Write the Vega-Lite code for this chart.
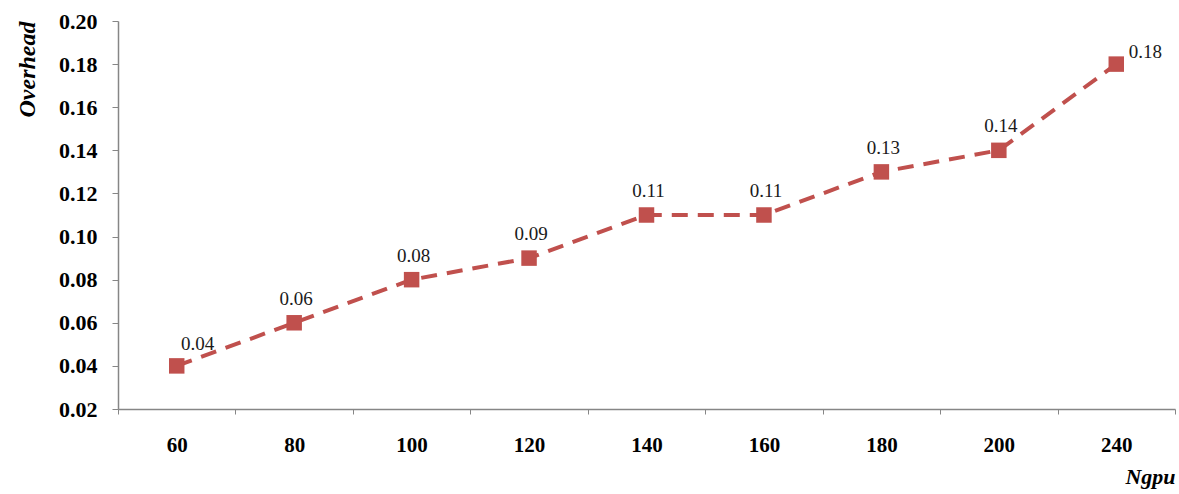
{
  "$schema": "https://vega.github.io/schema/vega-lite/v6.json",
  "autosize": {"type": "none"},
  "width": 1057,
  "height": 388,
  "padding": {"left": 118, "top": 21, "right": 4, "bottom": 85},
  "background": "white",
  "config": {"view": {"stroke": null}},
  "data": {
    "values": [
      {"Ngpu": "60", "Overhead": 0.04},
      {"Ngpu": "80", "Overhead": 0.06},
      {"Ngpu": "100", "Overhead": 0.08},
      {"Ngpu": "120", "Overhead": 0.09},
      {"Ngpu": "140", "Overhead": 0.11},
      {"Ngpu": "160", "Overhead": 0.11},
      {"Ngpu": "180", "Overhead": 0.13},
      {"Ngpu": "200", "Overhead": 0.14},
      {"Ngpu": "240", "Overhead": 0.18}
    ]
  },
  "encoding": {
    "x": {
      "field": "Ngpu",
      "type": "ordinal",
      "sort": null,
      "scale": {"type": "band", "paddingInner": 0, "paddingOuter": 0},
      "axis": {
        "title": "Ngpu",
        "titleFont": "Liberation Serif",
        "titleFontSize": 22,
        "titleFontWeight": "bold",
        "titleFontStyle": "italic",
        "titleColor": "#000000",
        "titleAnchor": "end",
        "titlePadding": 11,
        "labelFont": "Liberation Serif",
        "labelFontSize": 21,
        "labelFontWeight": "bold",
        "labelColor": "#000000",
        "labelAngle": 0,
        "labelPadding": 20,
        "tickBand": "extent",
        "tickColor": "#868686",
        "tickSize": 5,
        "domainColor": "#868686",
        "domainWidth": 1.5,
        "grid": false
      }
    },
    "y": {
      "field": "Overhead",
      "type": "quantitative",
      "scale": {"domain": [0.02, 0.2], "nice": false, "zero": false},
      "axis": {
        "title": "Overhead",
        "titleFont": "Liberation Serif",
        "titleFontSize": 24,
        "titleFontWeight": "bold",
        "titleFontStyle": "italic",
        "titleColor": "#000000",
        "titleAnchor": "end",
        "titlePadding": 19,
        "values": [0.02, 0.04, 0.06, 0.08, 0.1, 0.12, 0.14, 0.16, 0.18, 0.2],
        "format": ".2f",
        "labelFont": "Liberation Serif",
        "labelFontSize": 22,
        "labelFontWeight": "bold",
        "labelColor": "#000000",
        "labelPadding": 15,
        "tickColor": "#868686",
        "tickSize": 6,
        "domainColor": "#868686",
        "domainWidth": 1.5,
        "grid": false
      }
    }
  },
  "layer": [
    {
      "mark": {"type": "line", "color": "#C0504D", "strokeWidth": 4, "strokeDash": [16, 10]}
    },
    {
      "mark": {"type": "point", "shape": "square", "filled": true, "opacity": 1, "color": "#C0504D", "size": 240}
    },
    {
      "transform": [{"filter": "datum.Ngpu != '60' && datum.Ngpu != '240'"}],
      "mark": {"type": "text", "font": "Liberation Serif", "fontSize": 19, "color": "#1a1a1a", "dy": -24, "dx": 2},
      "encoding": {"text": {"field": "Overhead", "type": "quantitative", "format": ".2f"}}
    },
    {
      "transform": [{"filter": "datum.Ngpu == '60'"}],
      "mark": {"type": "text", "font": "Liberation Serif", "fontSize": 19, "color": "#1a1a1a", "dy": -22, "dx": 21},
      "encoding": {"text": {"field": "Overhead", "type": "quantitative", "format": ".2f"}}
    },
    {
      "transform": [{"filter": "datum.Ngpu == '240'"}],
      "mark": {"type": "text", "font": "Liberation Serif", "fontSize": 19, "color": "#1a1a1a", "dy": -12, "dx": 29},
      "encoding": {"text": {"field": "Overhead", "type": "quantitative", "format": ".2f"}}
    }
  ]
}
